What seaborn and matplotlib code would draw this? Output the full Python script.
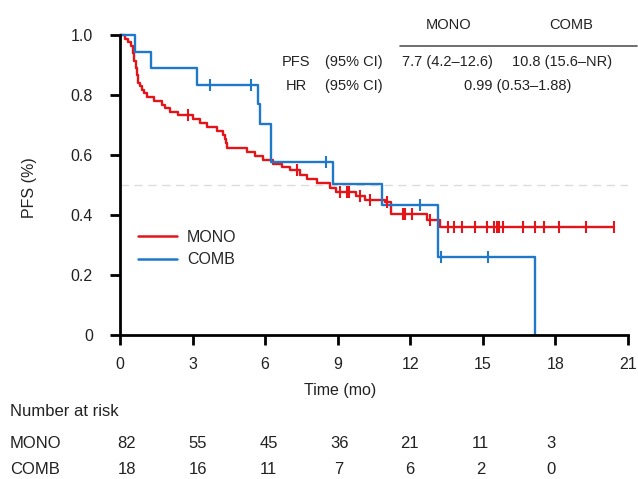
import numpy as np
import pandas as pd
import matplotlib
matplotlib.use("Agg")
import matplotlib.pyplot as plt
from matplotlib.lines import Line2D
import seaborn as sns

# Kaplan-Meier step points (event time in months, survival after the step)
mono_event_times = [0.20, 0.33, 0.45, 0.54, 0.58, 0.66, 0.70, 0.74, 0.83, 0.91,
                    0.99, 1.12, 1.40, 1.74, 1.86, 2.07, 2.40, 3.02, 3.31, 3.60,
                    4.00, 4.26, 4.34, 4.38, 4.42, 5.25, 5.58, 5.91, 6.32, 6.69,
                    7.02, 7.44, 7.73, 8.14, 8.68, 8.93, 9.75, 10.12, 10.95, 11.20,
                    12.69, 13.22]
mono_surv = [0.988, 0.976, 0.963, 0.939, 0.915, 0.890, 0.866, 0.841, 0.829, 0.817,
             0.805, 0.793, 0.780, 0.768, 0.756, 0.744, 0.732, 0.719, 0.706, 0.693,
             0.680, 0.667, 0.654, 0.641, 0.623, 0.610, 0.597, 0.583, 0.570, 0.560,
             0.550, 0.533, 0.520, 0.507, 0.490, 0.477, 0.463, 0.450, 0.443, 0.405,
             0.383, 0.360]
mono_censor = [2.81, 7.31, 9.09, 9.38, 9.46, 9.92, 10.33, 11.03, 11.69, 11.78,
               12.07, 12.81, 13.55, 13.80, 14.13, 14.67, 15.17, 15.45, 15.58,
               15.66, 15.83, 16.65, 17.15, 17.52, 18.14, 19.26, 20.41]

comb_event_times = [0.60, 1.30, 3.20, 5.70, 5.80, 6.25, 8.80, 10.85, 13.15, 17.15]
comb_surv = [0.944, 0.889, 0.833, 0.769, 0.705, 0.577, 0.505, 0.433, 0.260, 0.0]
comb_censor = [3.70, 5.40, 8.50, 12.40, 13.26, 15.20]

# Number-at-risk table
risk_times = [0, 3, 6, 9, 12, 15, 18]
mono_risk = [82, 55, 45, 36, 21, 11, 3]
comb_risk = [18, 16, 11, 7, 6, 2, 0]

groups = ["MONO", "COMB"]
palette = {"MONO": "#E3141A", "COMB": "#1F78C8"}

x_ticks = [0, 3, 6, 9, 12, 15, 18, 21]
y_ticks = [0, 0.2, 0.4, 0.6, 0.8, 1.0]
y_tick_labels = ["0", "0.2", "0.4", "0.6", "0.8", "1.0"]

sns.set_theme(style="ticks")
plt.rcParams["font.family"] = ["Liberation Sans", "DejaVu Sans"]

W, H = 638, 479
fig = plt.figure(figsize=(W / 100, H / 100), dpi=100)


def fx(px):
    return px / W


def fy(py):
    return 1 - py / H


ax = fig.add_axes([fx(120), fy(335), fx(508), 300 / H])


def step_table(times, surv, end=None):
    t = [0.0] + list(times)
    s = [1.0] + list(surv)
    if end is not None and end > t[-1]:
        t.append(end)
        s.append(s[-1])
    return np.array(t), np.array(s)


mono_t, mono_s = step_table(mono_event_times, mono_surv, end=max(mono_censor))
comb_t, comb_s = step_table(comb_event_times, comb_surv)

curves = pd.concat([
    pd.DataFrame({"time": mono_t, "surv": mono_s, "group": "MONO"}),
    pd.DataFrame({"time": comb_t, "surv": comb_s, "group": "COMB"}),
], ignore_index=True)


def censor_points(cens, t, s, name):
    idx = np.searchsorted(t, cens, side="right") - 1
    return pd.DataFrame({"time": cens, "surv": s[idx], "group": name})


marks = pd.concat([
    censor_points(np.array(mono_censor), mono_t, mono_s, "MONO"),
    censor_points(np.array(comb_censor), comb_t, comb_s, "COMB"),
], ignore_index=True)

# 50% reference line
ax.axhline(0.5, color="#dcdcdc", lw=1.0, dashes=(6, 4), zorder=0)

sns.lineplot(data=curves, x="time", y="surv", hue="group", hue_order=groups,
             palette=palette, drawstyle="steps-post", estimator=None, sort=False,
             linewidth=1.7, legend=False, ax=ax, clip_on=False)

for g in groups:
    sub = marks[marks["group"] == g]
    ax.plot(sub["time"], sub["surv"], linestyle="none", marker="|",
            markersize=9, markeredgewidth=1.5, color=palette[g], clip_on=False)

ax.set_xlim(0, 21)
ax.set_ylim(0, 1.0)
ax.set_xticks(x_ticks)
ax.set_xticklabels([str(v) for v in x_ticks])
ax.set_yticks(y_ticks)
ax.set_yticklabels(y_tick_labels)
sns.despine(ax=ax)
for side in ["left", "bottom"]:
    ax.spines[side].set_linewidth(2.0)
    ax.spines[side].set_color("black")
ax.tick_params(axis="both", direction="out", length=7.5, width=2.0,
               color="black", labelsize=11.5, labelcolor="#222222")
ax.tick_params(axis="x", pad=8)
ax.tick_params(axis="y", pad=12)

ax.set_xlabel("Time (mo)", fontsize=11.5, color="#222222")
ax.set_ylabel("PFS (%)", fontsize=11.5, color="#222222")
ax.xaxis.set_label_coords(0.433, -0.16)
ax.yaxis.set_label_coords(-0.163, 0.49)

handles = [Line2D([0], [0], color=palette[g], lw=1.8) for g in groups]
ax.legend(handles, groups, loc="center left", bbox_to_anchor=(0.036, 0.288),
          frameon=False, fontsize=11.5, handlelength=2.4, handletextpad=0.65,
          labelspacing=0.45, borderpad=0, borderaxespad=0)

# Median PFS / HR summary
txt = dict(fontsize=10.5, color="#222222", va="center")
fig.text(fx(449), fy(25), "MONO", ha="center", **txt)
fig.text(fx(571), fy(25), "COMB", ha="center", **txt)
fig.add_artist(Line2D([fx(400), fx(637)], [fy(46), fy(46)], color="#555555", lw=1.2))
fig.text(fx(296), fy(62), "PFS", ha="center", **txt)
fig.text(fx(354), fy(62), "(95% CI)", ha="center", **txt)
fig.text(fx(447), fy(62), "7.7 (4.2\u201312.6)", ha="center", **txt)
fig.text(fx(562), fy(62), "10.8 (15.6\u2013NR)", ha="center", **txt)
fig.text(fx(296), fy(86), "HR", ha="center", **txt)
fig.text(fx(354), fy(86), "(95% CI)", ha="center", **txt)
fig.text(fx(518), fy(86), "0.99 (0.53\u20131.88)", ha="center", **txt)

# Number at risk
rt = dict(fontsize=12, color="#222222", va="center")
fig.text(fx(10), fy(411), "Number at risk", ha="left", **rt)
fig.text(fx(10), fy(443), "MONO", ha="left", **rt)
fig.text(fx(10), fy(470), "COMB", ha="left", **rt)
for i, (m, c) in enumerate(zip(mono_risk, comb_risk)):
    xp = 127 + i * 70.7
    fig.text(fx(xp), fy(443), str(m), ha="center", **rt)
    fig.text(fx(xp), fy(470), str(c), ha="center", **rt)

fig.savefig("out.png", dpi=100)
